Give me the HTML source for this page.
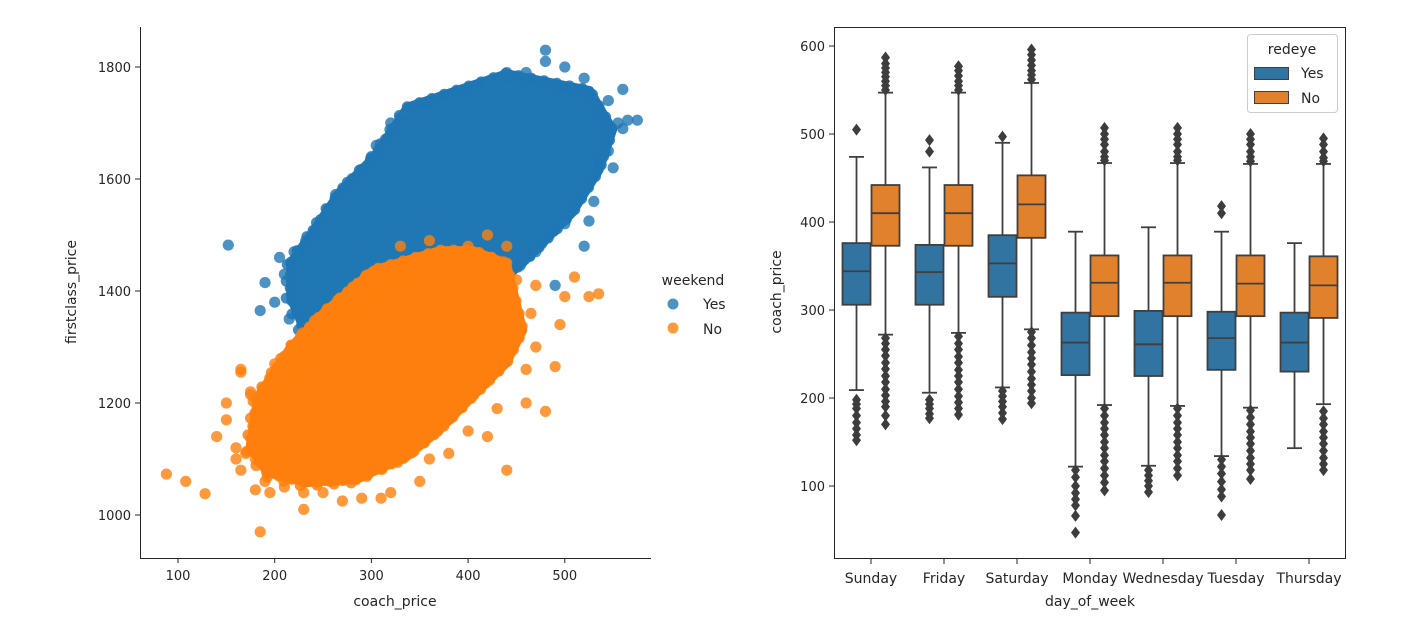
<!DOCTYPE html>
<html><head><meta charset="utf-8"><style>
html,body{margin:0;padding:0;background:#fff}
svg text{font-family:"DejaVu Sans","Liberation Sans",sans-serif;fill:#262626}
</style></head><body>
<svg id="fig" width="1402" height="613" viewBox="0 0 1402 613" xmlns="http://www.w3.org/2000/svg"></svg>
<script>
// ---------- Scatter data ----------
const blueHull=[[233,1318],[216,1389],[216,1450],[240,1509],[268,1580],[302,1639],[337,1729],[440,1789],[526,1759],[550,1688],[536,1616],[508,1539],[474,1479],[457,1450],[412,1384],[330,1330]];
const orangeHull=[[440,1450],[457,1330],[440,1271],[405,1211],[371,1152],[337,1104],[285,1063],[233,1057],[192,1075],[174,1121],[182,1211],[216,1300],[250,1361],[302,1438],[371,1473],[405,1473]];
const bluePoints=[[152,1482],[185,1365],[190,1415],[205,1460],[210,1430],[200,1380],[230,1360],[255,1540],[262,1520],[270,1570],[300,1640],[320,1700],[335,1715],[375,1720],[410,1760],[440,1790],[480,1830],[480,1810],[500,1800],[560,1760],[565,1705],[550,1620],[525,1525],[520,1480],[490,1410],[530,1560],[545,1650],[575,1705],[560,1690],[255,1420],[230,1440],[220,1470],[215,1350],[290,1610],[350,1700],[395,1745],[240,1400],[225,1420],[250,1480],[280,1550],[310,1610],[330,1660],[360,1700],[420,1770],[460,1790],[520,1780],[545,1740],[555,1700],[540,1640],[520,1580],[500,1520],[470,1470],[285,1590],[305,1660]];
const orangePoints=[[88,1073],[108,1060],[128,1038],[140,1140],[160,1100],[165,1260],[175,1220],[185,970],[195,1040],[230,1010],[180,1045],[200,1270],[215,1290],[420,1500],[440,1480],[510,1425],[525,1390],[535,1395],[500,1390],[495,1340],[490,1265],[480,1185],[440,1080],[380,1110],[290,1030],[350,1060],[150,1200],[420,1140],[165,1080],[150,1170],[170,1110],[200,1110],[250,1040],[310,1030],[460,1200],[470,1300],[330,1480],[360,1490],[470,1410],[400,1480],[165,1255],[175,1215],[185,1190],[160,1120],[180,1100],[195,1095],[190,1060],[210,1050],[230,1040],[270,1025],[320,1040],[210,1220],[220,1240],[230,1270],[245,1300],[260,1330],[280,1360],[300,1400],[330,1420],[450,1420],[465,1360],[460,1260],[430,1190],[400,1150],[360,1100]];
const xTicks=[100,200,300,400,500];
const yTicks=[1000,1200,1400,1600,1800];

// ---------- Box data ----------
const days=["Sunday","Friday","Saturday","Monday","Wednesday","Tuesday","Thursday"];
// [whiskerLow, q1, median, q3, whiskerHigh]
const yesStats=[[209,306,344,376,474],[206,306,343,374,462],[212,315,353,385,490],[122,226,263,297,389],[123,225,261,299,394],[134,232,268,298,389],[143,230,263,297,376]];
const noStats=[[272,373,410,442,547],[274,373,410,442,547],[278,382,420,453,558],[192,293,331,362,467],[191,293,331,362,467],[189,293,330,362,466],[193,291,328,361,466]];
const yesOut=[[505,198,193,188,180,172,165,158,152],[493,480,198,193,188,182,177],[497,208,202,196,190,183,176],[118,110,100,92,85,78,66,47],[118,112,106,100,93],[418,410,130,122,114,105,96,88,67],[]];
const noOut=[[550,555,560,565,570,575,580,587,268,262,255,248,240,233,225,218,210,203,196,190,180,170],[550,555,560,566,572,577,270,262,255,247,240,232,225,218,210,202,195,188,181],[562,567,572,578,584,590,596,275,268,260,252,245,238,230,222,215,208,200,194],[507,500,494,488,480,474,470,188,180,172,165,158,150,143,135,128,120,112,104,95],[507,500,494,488,480,474,470,188,180,172,165,158,150,143,135,128,120,112],[500,494,488,480,474,469,186,178,170,162,155,148,140,132,125,118,108],[495,488,480,473,469,185,177,170,162,155,148,140,132,125,118]];
const yTicks2=[100,200,300,400,500,600];

const NS="http://www.w3.org/2000/svg";
const svg=document.getElementById('fig');
function mk(tag,attrs,parent){const e=document.createElementNS(NS,tag);for(const k in attrs)e.setAttribute(k,attrs[k]);(parent||svg).appendChild(e);return e;}

// ---------- Left axes ----------
const sx=v=>178+(v-100)*0.967;
const sy=v=>515-(v-1000)*0.56;
const gL=mk('g',{});


function hullPath(h){return 'M'+h.map(p=>sx(p[0]).toFixed(1)+','+sy(p[1]).toFixed(1)).join('L')+'Z';}
function cloud(h,pts,col,name){
  const p=mk('path',{d:hullPath(h),fill:col,stroke:col,'stroke-width':8,'stroke-linejoin':'round'},gL);
  
  
  mk('path',{d:hullPath(h),fill:'none',stroke:col,'stroke-opacity':0.85,'stroke-width':11,'stroke-linecap':'round','stroke-dasharray':'0 13'},gL);
  mk('path',{d:hullPath(h),fill:'none',stroke:col,'stroke-opacity':0.85,'stroke-width':11,'stroke-linecap':'round','stroke-dasharray':'0 17','stroke-dashoffset':6,transform:'translate(-4,3)'},gL);
  pts.forEach(q=>{const c=mk('circle',{cx:sx(q[0]),cy:sy(q[1]),r:5.6,fill:col,'fill-opacity':0.8},gL);
  
  });
}
cloud(blueHull,bluePoints,'#1f77b4','weekend-yes');
cloud(orangeHull,orangePoints,'#ff7f0e','weekend-no');
mk('line',{x1:140.5,y1:27,x2:140.5,y2:558.5,stroke:'#262626','stroke-width':1},gL);
mk('line',{x1:140,y1:558.5,x2:651,y2:558.5,stroke:'#262626','stroke-width':1},gL);
xTicks.forEach(v=>{const x=sx(v);mk('line',{x1:x,y1:558,x2:x,y2:563,stroke:'#262626'},gL);
const t=mk('text',{x:x,y:580,'text-anchor':'middle','font-size':13},gL);t.textContent=v;

});
yTicks.forEach(v=>{const y=sy(v);mk('line',{x1:135,y1:y,x2:140,y2:y,stroke:'#262626'},gL);
const t=mk('text',{x:131,y:y+5,'text-anchor':'end','font-size':13},gL);t.textContent=v;

});
let t=mk('text',{x:395,y:606,'text-anchor':'middle','font-size':14},gL);t.textContent='coach_price';


t=mk('text',{x:0,y:0,'text-anchor':'middle','font-size':14,transform:'translate(76,292) rotate(-90)'},gL);t.textContent='firstclass_price';


const lg=mk('g',{});


t=mk('text',{x:693,y:285,'text-anchor':'middle','font-size':14},lg);t.textContent='weekend';
mk('circle',{cx:673,cy:304,r:5.5,fill:'#1f77b4','fill-opacity':0.8},lg);
t=mk('text',{x:703,y:309,'font-size':14},lg);t.textContent='Yes';
mk('circle',{cx:673,cy:328,r:5.5,fill:'#ff7f0e','fill-opacity':0.8},lg);
t=mk('text',{x:703,y:334,'font-size':14},lg);t.textContent='No';

// ---------- Right axes ----------
const by=v=>46+(600-v)*0.88;
const cx=i=>871+i*73;
const gR=mk('g',{});


const E='#3f3f3f';
function drawBox(i,s,outs,off,fill,name){
  const g=mk('g',{},gR);
  
  
  const c=cx(i)+off, w=29, x0=c-w/2+0.5;
  mk('line',{x1:c,y1:by(s[4]),x2:c,y2:by(s[3]),stroke:E,'stroke-width':1.8},g);
  mk('line',{x1:c,y1:by(s[1]),x2:c,y2:by(s[0]),stroke:E,'stroke-width':1.8},g);
  mk('line',{x1:c-7.5,y1:by(s[4]),x2:c+7.5,y2:by(s[4]),stroke:E,'stroke-width':1.8},g);
  mk('line',{x1:c-7.5,y1:by(s[0]),x2:c+7.5,y2:by(s[0]),stroke:E,'stroke-width':1.8},g);
  mk('rect',{x:x0,y:by(s[3]),width:w-1,height:by(s[1])-by(s[3]),fill:fill,stroke:E,'stroke-width':1.8},g);
  mk('line',{x1:x0,y1:by(s[2]),x2:x0+w-1,y2:by(s[2]),stroke:E,'stroke-width':1.8},g);
  outs.forEach(v=>{const y=by(v);const d=mk('path',{d:`M${c},${y-6}L${c+4.5},${y}L${c},${y+6}L${c-4.5},${y}Z`,fill:'#3d3d3d'},g);
  
  });
}
days.forEach((d,i)=>{drawBox(i,yesStats[i],yesOut[i],-14.5,'#3274a1','box-yes-'+d.toLowerCase());drawBox(i,noStats[i],noOut[i],14.5,'#e1812c','box-no-'+d.toLowerCase());});
mk('rect',{x:834.5,y:27.5,width:511,height:531,fill:'none',stroke:'#262626','stroke-width':1},gR);
days.forEach((d,i)=>{const x=cx(i);mk('line',{x1:x,y1:559,x2:x,y2:564,stroke:'#262626'},gR);
const tt=mk('text',{x:x,y:583,'text-anchor':'middle','font-size':14},gR);tt.textContent=d;

});
yTicks2.forEach(v=>{const y=by(v);mk('line',{x1:829,y1:y,x2:834,y2:y,stroke:'#262626'},gR);
const tt=mk('text',{x:825,y:y+5,'text-anchor':'end','font-size':13},gR);tt.textContent=v;

});
t=mk('text',{x:1090,y:606,'text-anchor':'middle','font-size':14},gR);t.textContent='day_of_week';


t=mk('text',{x:0,y:0,'text-anchor':'middle','font-size':14,transform:'translate(781,292) rotate(-90)'},gR);t.textContent='coach_price';


const lg2=mk('g',{});


mk('rect',{x:1247.5,y:34.5,width:90,height:78,rx:3,fill:'#fff','fill-opacity':0.8,stroke:'#cccccc'},lg2);
t=mk('text',{x:1292,y:54,'text-anchor':'middle','font-size':14},lg2);t.textContent='redeye';
mk('rect',{x:1254.5,y:67.5,width:34,height:12,fill:'#3274a1',stroke:E},lg2);
t=mk('text',{x:1301,y:78,'font-size':14},lg2);t.textContent='Yes';
mk('rect',{x:1254.5,y:91.5,width:34,height:12,fill:'#e1812c',stroke:E},lg2);
t=mk('text',{x:1301,y:103,'font-size':14},lg2);t.textContent='No';
</script>
</body></html>
